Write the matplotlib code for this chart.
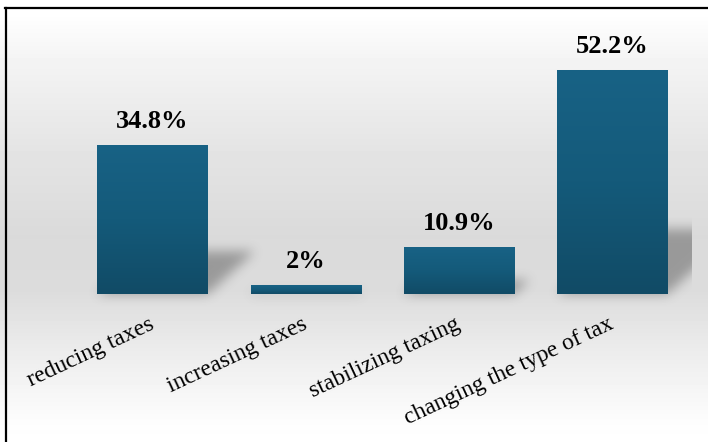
import numpy as np
import matplotlib
matplotlib.use("Agg")
import matplotlib.pyplot as plt
from matplotlib.colors import LinearSegmentedColormap
from matplotlib.path import Path
from matplotlib.lines import Line2D
from matplotlib.transforms import ScaledTranslation

categories = ["reducing taxes", "increasing taxes", "stabilizing taxing", "changing the type of tax"]
values = [34.8, 2, 10.9, 52.2]
value_labels = ["34.8%", "2%", "10.9%", "52.2%"]

W, H = 708, 442
DPI = 100
fig = plt.figure(figsize=(W / DPI, H / DPI), dpi=DPI)

# background gradient
bg = fig.add_axes([0, 0, 1, 1], zorder=0)
bg.axis("off")
ys = [0, 12, 60, 150, 235, 290, 350, 420, 442]
gv = [1.0, 1.0, 0.955, 0.895, 0.855, 0.862, 0.925, 0.99, 1.0]
col = np.interp(np.arange(H), ys, gv)
img = np.repeat(col[:, None], W, axis=1)
bg.imshow(img, cmap="gray", vmin=0, vmax=1, extent=[0, W, H, 0], aspect="auto", interpolation="bilinear")
bg.set_xlim(0, W)
bg.set_ylim(H, 0)

ax = fig.add_axes([0, 148 / H, 1, 294 / H], zorder=2)
ax.patch.set_alpha(0)
x = np.arange(len(categories))
bw = 0.72
xlim = (-0.9957, 3.626)
ylim = (0, 68.5)
bars = ax.bar(x, values, width=bw, color="#155878", zorder=2)
ax.set_xlim(*xlim)
ax.set_ylim(*ylim)

# gradient on bars
cm = LinearSegmentedColormap.from_list("barg", ["#114b66", "#145a7a", "#186285"])
grad = np.linspace(0, 1, 100)[:, None]
for b in bars:
    x0, y0 = b.get_x(), b.get_y()
    im = ax.imshow(grad, cmap=cm, extent=[x0, x0 + b.get_width(), y0, y0 + b.get_height()],
                   origin="lower", aspect="auto", zorder=3, interpolation="bilinear")
    im.set_clip_path(b)
ax.set_xlim(*xlim)
ax.set_ylim(*ylim)

# shadows (blurred, in pixel space)
alpha = np.zeros((H, W))
yy, xx = np.mgrid[0:H, 0:W]
pts = np.column_stack([xx.ravel() + 0.5, (H - yy.ravel() - 0.5)])
for b in bars:
    (l, base) = ax.transData.transform((b.get_x(), 0))
    (r, top) = ax.transData.transform((b.get_x() + b.get_width(), b.get_height()))
    s = 0.29 * (top - base)
    poly = Path([(l, base), (r, base), (r + s * 1.1, base + s), (l + s * 1.1, base + s), (l, base)])
    m = poly.contains_points(pts).reshape(H, W)
    alpha[m] = 0.42

def box_blur(a, rad, axis):
    k = 2 * rad + 1
    pad = [(0, 0), (0, 0)]
    pad[axis] = (rad + 1, rad)
    ap = np.pad(a, pad, mode="edge")
    c = np.cumsum(ap, axis=axis)
    if axis == 0:
        return (c[k:] - c[:-k]) / k
    return (c[:, k:] - c[:, :-k]) / k

for _ in range(3):
    alpha = box_blur(alpha, 5, 0)
    alpha = box_blur(alpha, 5, 1)
alpha[:, 692:] = 0
rgba = np.zeros((H, W, 4))
rgba[..., :3] = 0.25
rgba[..., 3] = alpha
bg.imshow(rgba, extent=[0, W, H, 0], aspect="auto", interpolation="bilinear", zorder=1)
bg.set_xlim(0, W)
bg.set_ylim(H, 0)

# data labels
for xi, v, lab in zip(x, values, value_labels):
    ax.annotate(lab, (xi, v), xytext=(0, 12.3), textcoords="offset points",
                ha="center", va="baseline", fontsize=19, fontweight="bold",
                family="Liberation Serif", color="black", zorder=5)

ax.set_xticks(x)
ax.set_xticklabels(categories, rotation=25, ha="right", rotation_mode="anchor",
                   fontsize=17, family="Liberation Serif")
ax.tick_params(axis="x", length=0, pad=14)
off = ScaledTranslation(-4 / DPI, 0, fig.dpi_scale_trans)
for t in ax.get_xticklabels():
    t.set_transform(t.get_transform() + off)
ax.set_yticks([])
for sp in ax.spines.values():
    sp.set_visible(False)

# frame lines
fig.add_artist(Line2D([5.5 / W, 5.5 / W], [0, 1 - 8 / H], color="black", lw=1.6, transform=fig.transFigure))
fig.add_artist(Line2D([5 / W, 1], [1 - 8 / H, 1 - 8 / H], color="black", lw=1.6, transform=fig.transFigure))

fig.savefig("out.png", dpi=DPI)
